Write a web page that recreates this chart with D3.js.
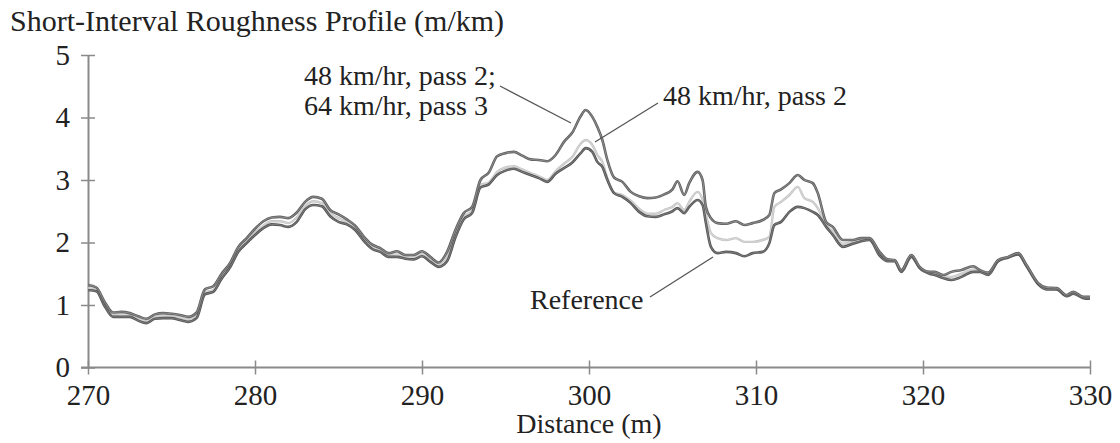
<!DOCTYPE html>
<html><head><meta charset="utf-8">
<script src="https://cdn.jsdelivr.net/npm/d3@7"></script>
<style>
body{margin:0;background:#fff;}
svg text{font-family:"Liberation Serif","Times New Roman",serif;fill:#222;}
</style></head>
<body>
<svg id="chart" width="1120" height="443"></svg>
<script>
const distance = [
 270,270.5,271,271.5,272,272.5,273,273.5,274,274.5,
 275,275.5,276,276.5,277,277.5,278,278.5,279,279.5,
 280,280.5,281,281.5,282,282.5,283,283.5,284,284.5,
 285,285.5,286,286.5,287,287.5,288,288.5,289,289.5,
 290,290.5,291,291.5,292,292.5,293,293.5,294,294.5,
 295,295.5,296,296.5,297,297.5,298,298.5,299,299.5,
 299.8,300.2,300.5,300.8,301.1,301.5,302,302.5,303,303.5,
 304,304.5,305,305.3,305.7,306,306.5,306.8,307,307.3,
 307.7,308.2,308.8,309.3,309.8,310.4,310.8,311.1,311.5,312,
 312.5,312.9,313.4,313.7,314.2,314.6,315.2,315.8,316.3,316.8,
 317.4,317.9,318.3,318.7,319.3,319.8,320.4,320.7,321.2,321.7,
 322.3,323,323.4,323.9,324.5,325.1,325.7,326.2,326.9,327.4,
 328,328.6,329,329.6,330];

// 48 km/hr pass 2; 64 km/hr pass 3 (upper)
const upper = [
 1.32,1.28,1.05,0.88,0.89,0.87,0.82,0.78,0.85,0.87,
 0.86,0.84,0.81,0.88,1.25,1.30,1.50,1.67,1.93,2.07,
 2.22,2.34,2.40,2.41,2.39,2.48,2.65,2.73,2.70,2.52,
 2.45,2.37,2.27,2.10,1.97,1.91,1.83,1.86,1.80,1.80,
 1.86,1.77,1.68,1.85,2.20,2.47,2.57,3.00,3.12,3.38,
 3.43,3.45,3.39,3.33,3.32,3.30,3.40,3.61,3.76,4.02,
 4.12,4.01,3.85,3.64,3.32,3.04,2.97,2.81,2.74,2.71,
 2.72,2.77,2.85,2.98,2.76,2.95,3.13,3.00,2.57,2.39,
 2.31,2.30,2.34,2.28,2.31,2.36,2.44,2.79,2.85,2.95,
 3.08,3.00,2.95,2.79,2.33,2.25,2.04,2.04,2.07,2.07,
 1.85,1.73,1.72,1.56,1.80,1.61,1.53,1.53,1.48,1.53,
 1.56,1.62,1.56,1.52,1.72,1.77,1.83,1.64,1.35,1.28,
 1.27,1.16,1.21,1.13,1.13];

// 48 km/hr pass 2 (light)
const pass2 = [
 1.27,1.24,1.01,0.84,0.85,0.84,0.78,0.74,0.81,0.83,
 0.82,0.80,0.77,0.83,1.20,1.24,1.45,1.63,1.88,2.02,
 2.16,2.27,2.34,2.34,2.31,2.40,2.58,2.66,2.63,2.47,
 2.39,2.33,2.24,2.06,1.93,1.88,1.80,1.81,1.77,1.76,
 1.82,1.73,1.64,1.76,2.13,2.41,2.51,2.92,2.96,3.13,
 3.20,3.22,3.17,3.11,3.06,3.00,3.14,3.26,3.37,3.58,
 3.64,3.56,3.40,3.29,3.03,2.80,2.76,2.67,2.54,2.46,
 2.46,2.52,2.57,2.63,2.52,2.65,2.81,2.68,2.45,2.15,
 2.07,2.04,2.07,2.01,2.01,2.04,2.09,2.57,2.65,2.76,
 2.89,2.71,2.65,2.55,2.28,2.18,1.98,2.01,2.04,2.06,
 1.82,1.71,1.71,1.54,1.78,1.60,1.51,1.50,1.45,1.45,
 1.50,1.57,1.54,1.50,1.71,1.76,1.82,1.63,1.34,1.27,
 1.26,1.15,1.19,1.12,1.12];

// Reference
const reference = [
 1.24,1.22,0.98,0.81,0.81,0.81,0.75,0.71,0.78,0.79,
 0.79,0.76,0.73,0.79,1.17,1.21,1.42,1.60,1.85,1.99,
 2.12,2.23,2.29,2.28,2.25,2.33,2.53,2.60,2.58,2.42,
 2.33,2.29,2.20,2.03,1.90,1.85,1.77,1.77,1.74,1.73,
 1.78,1.69,1.61,1.70,2.08,2.37,2.47,2.88,2.93,3.08,
 3.15,3.18,3.13,3.08,3.03,2.97,3.10,3.19,3.28,3.43,
 3.51,3.45,3.29,3.21,3.00,2.79,2.73,2.63,2.49,2.42,
 2.41,2.45,2.50,2.55,2.47,2.57,2.68,2.60,2.31,1.93,
 1.83,1.85,1.83,1.78,1.83,1.85,1.99,2.28,2.33,2.49,
 2.57,2.55,2.49,2.44,2.25,2.12,1.93,1.98,2.02,2.04,
 1.79,1.70,1.70,1.53,1.77,1.59,1.50,1.48,1.43,1.40,
 1.45,1.53,1.53,1.48,1.70,1.76,1.81,1.62,1.33,1.25,
 1.25,1.14,1.18,1.11,1.10];

const xTicks = [270,280,290,300,310,320,330];
const yTicks = [0,1,2,3,4,5];
const titleText = "Short-Interval Roughness Profile (m/km)";
const xTitle = "Distance (m)";

const svg = d3.select("#chart");
const x = d3.scaleLinear().domain([270,330]).range([88,1090]);
const y = d3.scaleLinear().domain([0,5]).range([367.5,55]);
const axisColor = "#8a8a8a";

// axes
const gx = svg.append("g").attr("transform","translate(0,"+y(0)+")")
  .call(d3.axisBottom(x).tickValues(xTicks).tickSizeInner(7).tickSizeOuter(0).tickPadding(10).tickFormat(d3.format("d")));
gx.select(".domain").attr("stroke",axisColor).attr("stroke-width",2).attr("d","M"+(x(270)-7)+",0H"+x(330));
gx.selectAll(".tick line").attr("stroke",axisColor).attr("stroke-width",1.5).attr("y1",-7);
gx.selectAll(".tick text").attr("font-size",29).attr("fill","#222").attr("font-family","Liberation Serif");

const gy = svg.append("g").attr("transform","translate("+x(270)+",0)")
  .call(d3.axisLeft(y).tickValues(yTicks).tickSizeInner(7).tickSizeOuter(0).tickPadding(11).tickFormat(d3.format("d")));
gy.select(".domain").attr("stroke",axisColor).attr("stroke-width",2);
gy.selectAll(".tick line").attr("stroke",axisColor).attr("stroke-width",1.5).attr("x2",-7).attr("x1",7);
gy.selectAll(".tick text").attr("font-size",29).attr("fill","#222").attr("font-family","Liberation Serif");

// lines
const line = vals => d3.line().x((d,i)=>x(distance[i])).y(d=>y(d)).curve(d3.curveMonotoneX)(vals);
function drawSeries(vals, outer, inner, wo, wi){
  svg.append("path").attr("d",line(vals)).attr("fill","none").attr("stroke",outer).attr("stroke-width",wo).attr("stroke-linejoin","round");
  svg.append("path").attr("d",line(vals)).attr("fill","none").attr("stroke",inner).attr("stroke-width",wi).attr("stroke-linejoin","round");
}
drawSeries(pass2, "#c4c4c4", "#dcdcdc", 2.4, 0.8);
drawSeries(reference, "#555", "#888", 2.6, 0.8);
drawSeries(upper, "#606060", "#999", 2.6, 0.8);

// text
svg.append("text").attr("x",10).attr("y",31).attr("font-size",30).text(titleText);
svg.append("text").attr("x",x(300)).attr("y",433).attr("font-size",28).attr("text-anchor","middle").text(xTitle);

const ann = svg.append("g").attr("font-size",28);
ann.append("text").attr("x",304).attr("y",85).text("48 km/hr, pass 2;");
ann.append("text").attr("x",304).attr("y",115).text("64 km/hr, pass 3");
ann.append("text").attr("x",663).attr("y",105).text("48 km/hr, pass 2");
ann.append("text").attr("x",530).attr("y",309).text("Reference");

const lead = [[500,86,571,123],[658,103,595,142],[650,297,713,257]];
svg.selectAll("line.lead").data(lead).enter().append("line").attr("class","lead")
  .attr("x1",d=>d[0]).attr("y1",d=>d[1]).attr("x2",d=>d[2]).attr("y2",d=>d[3])
  .attr("stroke","#555").attr("stroke-width",1.3);
</script>
</body></html>
